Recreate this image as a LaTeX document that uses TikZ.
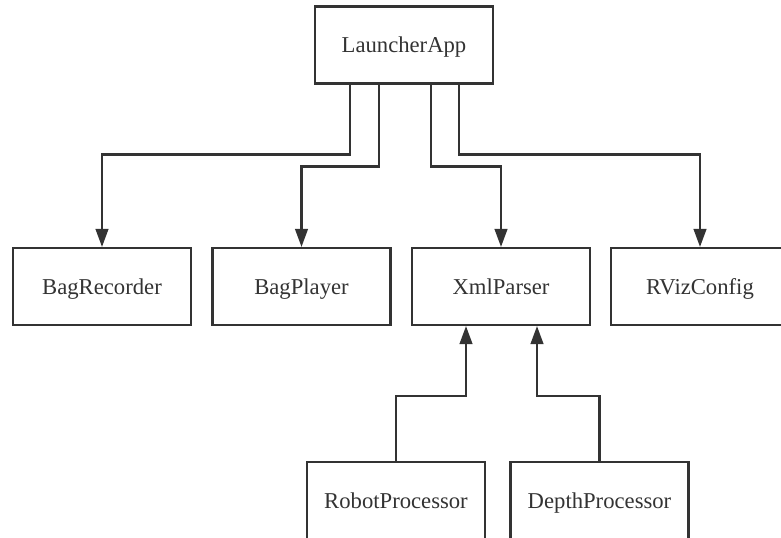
\documentclass[tikz,border=0pt]{standalone}
\usepackage{fontspec}
\setmainfont{Liberation Serif}
\usetikzlibrary{arrows.meta,calc}
\definecolor{ink}{HTML}{333333}
\begin{document}
\begin{tikzpicture}[x=0.75pt,y=-0.75pt,
  box/.style={draw=ink,line width=1.6pt,fill=white,minimum width=133.5pt,
    minimum height=57.75pt,inner sep=0pt,text height=13pt,text depth=1.5pt,
    font=\fontsize{17}{20}\selectfont,text=ink},
  link/.style={draw=ink,line width=1.6pt,-{Triangle[length=13.5pt,width=9.5pt]}}]
\useasboundingbox (0,0) rectangle (781,538);
\clip (0,0) rectangle (781,538);
% top-level application
\node[box] (launcher) at (404,45) {LauncherApp};
% components launched by it
\node[box] (bagrec) at (102,286.5) {BagRecorder};
\node[box] (bagplay) at (301.5,286.5) {BagPlayer};
\node[box] (xml) at (501,286.5) {XmlParser};
\node[box] (rviz) at (700,286.5) {RVizConfig};
% processors feeding the parser
\node[box] (robot) at (396,500.5) {RobotProcessor};
\node[box] (depth) at (599.5,500.5) {DepthProcessor};
% launcher connections
\draw[link] ($(launcher.south west)+(36,0)$) -- ++(0,70) -| (bagrec.north);
\draw[link] ($(launcher.south west)+(65,0)$) -- ++(0,82) -| (bagplay.north);
\draw[link] ($(launcher.south west)+(117,0)$) -- ++(0,82) -| (xml.north);
\draw[link] ($(launcher.south west)+(145,0)$) -- ++(0,70) -| (rviz.north);
% processor connections
\draw[link] (robot.north) -- ++(0,-65) -| ($(xml.south)+(-35,0)$);
\draw[link] (depth.north) -- ++(0,-65) -| ($(xml.south)+(36,0)$);
\end{tikzpicture}
\end{document}
